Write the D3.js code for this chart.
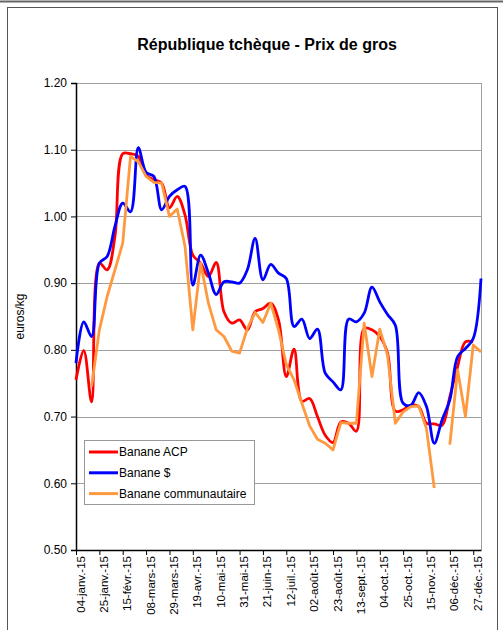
<!DOCTYPE html>
<html>
<head>
<meta charset="utf-8">
<script src="https://cdn.jsdelivr.net/npm/d3@7"></script>
<style>
  html, body { margin: 0; padding: 0; background: #fff; }
  svg { display: block; font-family: "Liberation Sans", Arial, sans-serif; }
</style>
</head>
<body>
<svg id="chart" width="503" height="630"></svg>
<script>
// Weekly wholesale prices (euros/kg), Sunday weeks from 04 Jan 2015 to 03 Jan 2016
const firstWeek = new Date(2015, 0, 4);
const lastWeek = new Date(2016, 0, 3);

const seriesNames = ["Banane ACP", "Banane $", "Banane communautaire"];
const seriesColors = ["#ff0000", "#0000ff", "#ff9940"];

const bananeACP = [
  0.755, 0.799, 0.722, 0.930, 0.920, 0.970, 1.094, 1.094, 1.090, 1.062,
  1.055, 1.050, 1.013, 1.030, 1.002, 0.942, 0.930, 0.910, 0.931, 0.857,
  0.840, 0.845, 0.830, 0.857, 0.862, 0.870, 0.845, 0.760, 0.801, 0.723,
  0.727, 0.700, 0.672, 0.661, 0.692, 0.690, 0.678, 0.832, 0.830, 0.820,
  0.795, 0.708, 0.710, 0.717, 0.715, 0.690, 0.689, 0.687, 0.730, 0.775,
  0.812, 0.812, null
];

const bananeDollar = [
  0.780, 0.842, 0.820, 0.930, 0.940, 0.985, 1.020, 1.007, 1.103, 1.066,
  1.060, 1.010, 1.030, 1.040, 1.045, 0.897, 0.942, 0.915, 0.883, 0.902,
  0.902, 0.900, 0.920, 0.967, 0.905, 0.928, 0.915, 0.907, 0.835, 0.846,
  0.817, 0.831, 0.765, 0.752, 0.740, 0.846, 0.842, 0.855, 0.894, 0.872,
  0.853, 0.837, 0.720, 0.717, 0.736, 0.715, 0.660, 0.695, 0.725, 0.790,
  0.802, 0.817, 0.907
];

const bananeCommunautaire = [
  null, null, 0.745, 0.830, 0.880, 0.920, 0.960, 1.090, 1.082, 1.060,
  1.051, 1.050, 1.000, 1.011, 0.955, 0.830, 0.930, 0.870, 0.830, 0.820,
  0.798, 0.795, 0.832, 0.856, 0.841, 0.870, 0.830, 0.778, 0.755, 0.720,
  0.686, 0.666, 0.660, 0.650, 0.691, 0.690, 0.690, 0.840, 0.760, 0.831,
  0.792, 0.690, 0.707, 0.715, 0.716, 0.682, 0.593, null, 0.658, 0.770,
  0.700, 0.807, 0.797
];

// Labels shown every third week
const tickLabels = [
  "04-janv.-15", "25-janv.-15", "15-févr.-15", "08-mars-15", "29-mars-15",
  "19-avr.-15", "10-mai-15", "31-mai-15", "21-juin-15", "12-juil.-15",
  "02-août-15", "23-août-15", "13-sept.-15", "04-oct.-15", "25-oct.-15",
  "15-nov.-15", "06-déc.-15", "27-déc.-15"
];

const yTicks = [0.5, 0.6, 0.7, 0.8, 0.9, 1.0, 1.1, 1.2];

const weeks = d3.timeWeek.range(firstWeek, d3.timeDay.offset(lastWeek, 1));
const tickDates = weeks.filter((d, i) => i % 3 === 0).slice(0, tickLabels.length);

const svg = d3.select("#chart");

// Outer frame
svg.append("line").attr("x1", 0).attr("x2", 503).attr("y1", 1.5).attr("y2", 1.5)
  .attr("stroke", "#666").attr("stroke-width", 2);
svg.append("rect").attr("x", 7.5).attr("y", 7.5).attr("width", 490).attr("height", 640)
  .attr("fill", "none").attr("stroke", "#555").attr("stroke-width", 1);

const plot = { left: 76, right: 481, top: 83, bottom: 550 };

const x = d3.scaleTime().domain([firstWeek, lastWeek]).range([plot.left, plot.right]);
const y = d3.scaleLinear().domain([0.5, 1.2]).range([plot.bottom, plot.top]);

// Title
svg.append("text")
  .attr("x", 267).attr("y", 50)
  .attr("text-anchor", "middle")
  .attr("font-size", 16).attr("font-weight", "bold")
  .text("République tchèque - Prix de gros");

// Horizontal gridlines
svg.append("g")
  .selectAll("line")
  .data(yTicks.filter(v => v > 0.5))
  .join("line")
  .attr("x1", plot.left).attr("x2", plot.right)
  .attr("y1", d => Math.round(y(d)) + 0.5).attr("y2", d => Math.round(y(d)) + 0.5)
  .attr("stroke", "#a0a0a0").attr("stroke-width", 1);

// Right border of plot area
svg.append("line")
  .attr("x1", plot.right + 0.5).attr("x2", plot.right + 0.5)
  .attr("y1", plot.top).attr("y2", plot.bottom)
  .attr("stroke", "#a0a0a0");

// Y axis
const yAxis = svg.append("g")
  .attr("transform", `translate(${plot.left},0)`)
  .call(d3.axisLeft(y).tickValues(yTicks).tickFormat(d3.format(".2f")).tickSize(5).tickPadding(4));
yAxis.select(".domain").attr("stroke", "#000").attr("stroke-width", 1.5);
yAxis.selectAll(".tick line").attr("stroke", "#000");
yAxis.selectAll("text").attr("font-size", 12).attr("fill", "#000")
  .attr("font-family", "'Liberation Sans', Arial, sans-serif");

// X axis
const xAxis = svg.append("g")
  .attr("transform", `translate(0,${plot.bottom})`)
  .call(d3.axisBottom(x).tickValues(tickDates)
    .tickFormat((d, i) => tickLabels[i]).tickSize(5).tickSizeOuter(0));
xAxis.select(".domain").attr("stroke", "#000").attr("stroke-width", 1.5);
xAxis.selectAll(".tick line").attr("stroke", "#000");
xAxis.selectAll("text")
  .attr("font-size", 11.5).attr("fill", "#000")
  .attr("font-family", "'Liberation Sans', Arial, sans-serif")
  .attr("text-anchor", "end")
  .attr("transform", "translate(4,6) rotate(-90)")
  .attr("x", 0).attr("y", 0).attr("dy", "0.35em");

// Y axis title
svg.append("text")
  .attr("transform", `translate(24,${(plot.top + plot.bottom) / 2}) rotate(-90)`)
  .attr("text-anchor", "middle")
  .attr("font-size", 12)
  .text("euros/kg");

// Series lines
const seriesData = [bananeACP, bananeDollar, bananeCommunautaire];
const curves = [d3.curveCatmullRom.alpha(0.5), d3.curveCatmullRom.alpha(0.5), d3.curveLinear];

seriesData.forEach((vals, k) => {
  const line = d3.line()
    .defined(d => d.v !== null)
    .x(d => x(d.date))
    .y(d => y(d.v))
    .curve(curves[k]);
  svg.append("path")
    .datum(vals.map((v, i) => ({ date: weeks[i], v })))
    .attr("fill", "none")
    .attr("stroke", seriesColors[k])
    .attr("stroke-width", 2.8)
    .attr("stroke-linejoin", "round")
    .attr("d", line);
});

// Legend
const legend = svg.append("g");
legend.append("rect")
  .attr("x", 84.5).attr("y", 440.5).attr("width", 170).attr("height", 64)
  .attr("fill", "#fff").attr("stroke", "#999");
seriesNames.forEach((name, k) => {
  const ly = 452 + k * 20.8;
  legend.append("line")
    .attr("x1", 89).attr("x2", 118).attr("y1", ly).attr("y2", ly)
    .attr("stroke", seriesColors[k]).attr("stroke-width", 3);
  legend.append("text")
    .attr("x", 119).attr("y", ly).attr("dy", "0.36em")
    .attr("font-size", 12)
    .text(name);
});
</script>
</body>
</html>
